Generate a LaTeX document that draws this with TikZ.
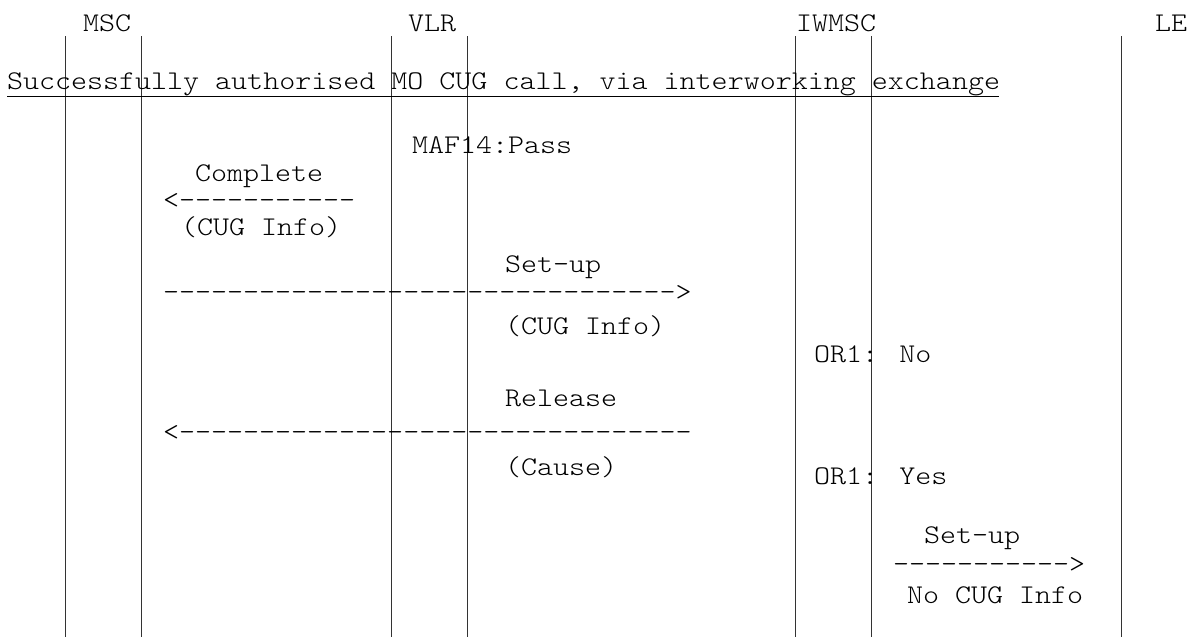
\documentclass[tikz,border=0pt]{standalone}
\usepackage{fontspec}
\newfontfamily\cour{lmmonolt10-regular.otf}[FakeStretch=1.13]
\begin{document}
\begin{tikzpicture}[x=1pt,y=-1pt,
  lifeline/.style={draw=black!80,line width=0.9pt},
  txt/.style={anchor=base west,inner sep=0pt,outer sep=0pt,font=\cour\fontsize{27}{30}\selectfont}]
\useasboundingbox (0,0) rectangle (1189,637);
% lifelines
\foreach \x/\n in {65/a,141/b,391/c,467/d,795/e,871/f,1121/g}{
  \coordinate (top\n) at (\x,36);
  \coordinate (bot\n) at (\x,637);
  \draw[lifeline] (top\n) -- (bot\n);
}
% headers
\node[txt] (msc) at (83,31) {MSC};
\node[txt] (vlr) at (408,31) {VLR};
\node[txt] (iwmsc) at (796,31) {IWMSC};
\node[txt] (le) at (1155,31) {LE};
% title
\node[txt] (title) at (7,89) {Successfully authorised MO CUG call, via interworking exchange};
\coordinate (ul1) at (7,96);
\coordinate (ul2) at (999,96);
\draw[line width=1pt] (ul1) -- (ul2);
% messages
\node[txt] (maf) at (412,153) {MAF14:Pass};
\node[txt] (complete) at (195,181) {Complete};
\node[txt] (arr1) at (163,208) {<-----------};
\node[txt] (cug1) at (181,235) {(CUG Info)};
\node[txt] (setup1) at (505,272) {Set-up};
\node[txt] (arr2) at (163,300) {-------------------------------->};
\node[txt] (cug2) at (505,334) {(CUG Info)};
\node[txt] (or1no) at (814,362) {OR1: No};
\node[txt] (release) at (505,406) {Release};
\node[txt] (arr3) at (163,440) {<--------------------------------};
\node[txt] (cause) at (505,475) {(Cause)};
\node[txt] (or1yes) at (814,484) {OR1: Yes};
\node[txt] (setup2) at (924,543) {Set-up};
\node[txt] (arr4) at (893,572) {----------->};
\node[txt] (nocug) at (907,603) {No CUG Info};
\end{tikzpicture}
\end{document}
